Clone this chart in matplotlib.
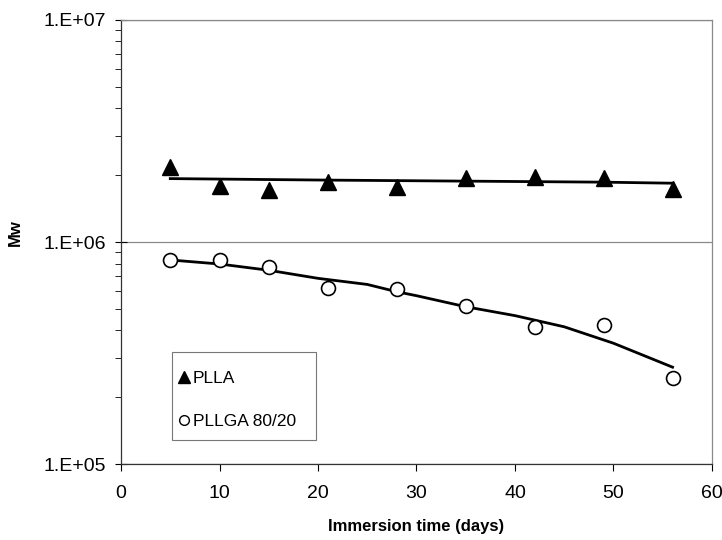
import matplotlib

matplotlib.use("Agg")
import matplotlib.pyplot as plt
from matplotlib.lines import Line2D
from matplotlib.patches import Rectangle
from matplotlib.ticker import FixedLocator, LogLocator, NullFormatter

plt.rcParams["font.family"] = ["Liberation Sans", "DejaVu Sans"]

# measured points
days = [5, 10, 15, 21, 28, 35, 42, 49, 56]
plla_mw = [2.18e6, 1.79e6, 1.71e6, 1.87e6, 1.77e6, 1.94e6, 1.96e6, 1.94e6, 1.73e6]
pllga_mw = [8.30e5, 8.30e5, 7.69e5, 6.18e5, 6.14e5, 5.15e5, 4.15e5, 4.23e5, 2.45e5]

# trend lines as drawn in the original
plla_fit_days = [5, 21, 35, 49, 56]
plla_fit_mw = [1.93e6, 1.90e6, 1.88e6, 1.86e6, 1.84e6]
pllga_fit_days = [5, 10, 15, 20, 25, 28, 30, 35, 40, 45, 50, 56]
pllga_fit_mw = [8.30e5, 7.96e5, 7.46e5, 6.86e5, 6.44e5, 5.97e5, 5.73e5,
                5.11e5, 4.66e5, 4.15e5, 3.50e5, 2.73e5]

x_ticks = [0, 10, 20, 30, 40, 50, 60]
y_ticks = [1e5, 1e6, 1e7]
y_labels = ["1.E+05", "1.E+06", "1.E+07"]

fig = plt.figure(figsize=(7.22, 5.40), dpi=100)
ax = fig.add_axes([0.1676, 0.1407, 0.8185, 0.8223])

ax.plot(plla_fit_days, plla_fit_mw, color="black", lw=2.0, zorder=2)
ax.plot(pllga_fit_days, pllga_fit_mw, color="black", lw=2.0, zorder=2)
ax.plot(days, plla_mw, ls="none", marker="^", ms=11, color="black", zorder=3)
ax.plot(days, pllga_mw, ls="none", marker="o", ms=10, mfc="white",
        mec="black", mew=1.2, zorder=3)

ax.set_yscale("log")
ax.set_xlim(0, 60)
ax.set_ylim(1e5, 1e7)
ax.xaxis.set_major_locator(FixedLocator(x_ticks))
ax.yaxis.set_major_locator(FixedLocator(y_ticks))
ax.set_yticklabels(y_labels)
ax.yaxis.set_minor_locator(LogLocator(base=10, subs=range(2, 10)))
ax.yaxis.set_minor_formatter(NullFormatter())

ax.tick_params(axis="y", which="major", direction="inout", length=9,
               width=0.8, labelsize=14, pad=6)
ax.tick_params(axis="y", which="minor", direction="out", length=4, width=0.6)
ax.tick_params(axis="x", which="major", direction="out", length=5,
               width=0.8, labelsize=14, pad=10)

ax.yaxis.grid(True, which="major", color="#8a8a8a", lw=0.9)
ax.set_axisbelow(True)

for side in ("top", "right"):
    ax.spines[side].set_color("#8a8a8a")
    ax.spines[side].set_linewidth(0.9)
for side in ("left", "bottom"):
    ax.spines[side].set_color("#333333")
    ax.spines[side].set_linewidth(0.9)

ax.set_xlabel("Immersion time (days)", fontsize=12, fontweight="bold",
              labelpad=12)
ax.set_ylabel("Mw", fontsize=12, fontweight="bold")
ax.yaxis.set_label_coords(-0.166, 0.52)

# legend box drawn separately so the entries can sit where the original has them
ax.add_patch(Rectangle((0.0858, 0.054), 0.244, 0.199, transform=ax.transAxes,
                       fill=False, edgecolor="#777777", lw=0.8, zorder=4))
handles = [
    Line2D([], [], ls="none", marker="^", ms=8, color="black"),
    Line2D([], [], ls="none", marker="o", ms=7, mfc="white", mec="black",
           mew=1.0),
]
ax.legend(handles, ["PLLA", "PLLGA 80/20"], loc="upper left",
          bbox_to_anchor=(0.0964, 0.209), borderaxespad=0, borderpad=0,
          fontsize=12.5, frameon=False, handlelength=0.7,
          handletextpad=0.15, labelspacing=1.6)

fig.savefig("out.png", dpi=100)
